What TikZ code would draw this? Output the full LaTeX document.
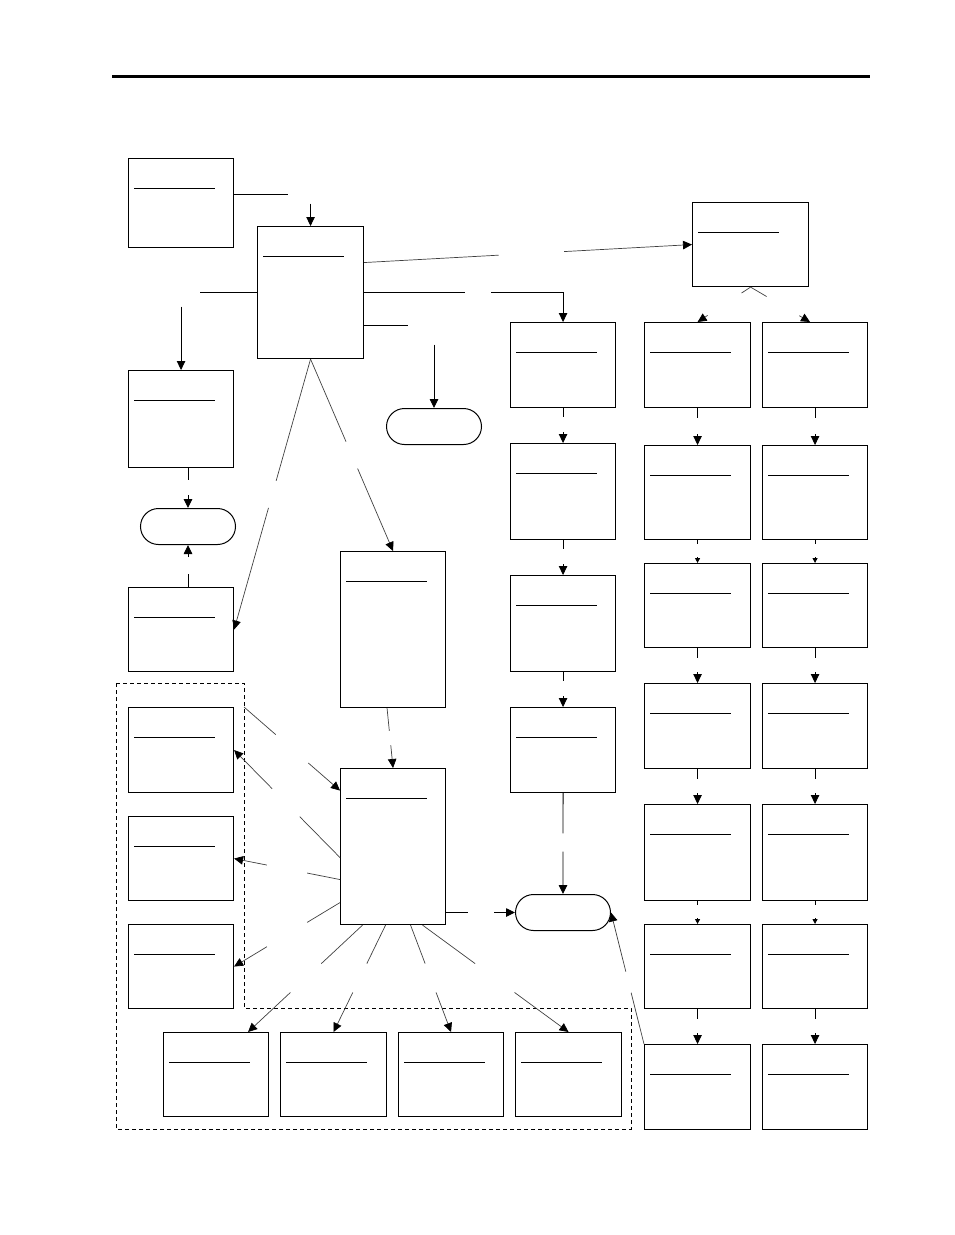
\documentclass[tikz,border=0pt]{standalone}
\usetikzlibrary{arrows.meta,calc}

\tikzset{
  box/.style={draw, line width=1.1pt, anchor=north west, inner sep=0pt, minimum width=105pt},
  term/.style={draw, line width=1pt, rounded corners=18pt, anchor=north west, inner sep=0pt,
    minimum width=95pt, minimum height=36pt},
  link/.style={line width=0.9pt},
  slant/.style={line width=0.7pt, draw=black!75},
  small/.style={-{Triangle[length=5pt,width=5pt,color=black]}}
}

% gebrochene Verbindung: Start, Ziel, Ende erstes Stück, Anfang Pfeilstück
\newcommand{\gapline}[4]{%
  \draw[slant] (#1) -- ($(#1)!#3!(#2)$);
  \draw[slant,->] ($(#1)!#4!(#2)$) -- (#2);}

\begin{document}
\begin{tikzpicture}[x=1pt, y=-1pt, >={Triangle[length=9pt,width=8.5pt,color=black]}]
\useasboundingbox (0,0) rectangle (954,1235);

% Kopflinie
\draw[line width=3pt] (112,76) -- (870,76);

% obere Blöcke
\node[box, minimum height=89pt] (src) at (128,158) {};
\node[box, minimum width=106pt, minimum height=132pt] (hub) at (257,226) {};
\node[box, minimum width=116pt, minimum height=84pt] (side) at (692,202) {};
\node[box, minimum height=97pt] (up) at (128,370) {};
\node[box, minimum height=84pt] (low) at (128,587) {};
\node[box, minimum height=156pt] (mid) at (340,551) {};
\node[box, minimum height=156pt] (core) at (340,768) {};

% Endstellen
\node[term] (endL) at (140,508) {};
\node[term] (endM) at (386,408) {};
\node[term] (endR) at (515,894) {};

% Spalte links der Mitte
\node[box, minimum height=85pt] (p1) at (510,322) {};
\node[box, minimum height=96pt] (p2) at (510,443) {};
\node[box, minimum height=96pt] (p3) at (510,575) {};
\node[box, minimum height=85pt] (p4) at (510,707) {};

% zwei rechte Spalten
\foreach \y/\h [count=\i] in {322/85,445/94,563/84,683/85,804/96,924/84,1044/85} {
  \node[box, minimum width=106pt, minimum height={\h pt}] (q\i) at (644,\y) {};
  \node[box, minimum height={\h pt}] (r\i) at (762,\y) {};
}

% Gruppe unten links
\node[box, minimum height=85pt] (l1) at (128,707) {};
\node[box, minimum height=84pt] (l2) at (128,816) {};
\node[box, minimum height=84pt] (l3) at (128,924) {};
\node[box, minimum height=84pt] (d1) at (163,1032) {};
\node[box, minimum width=106pt, minimum height=84pt] (d2) at (280,1032) {};
\node[box, minimum height=84pt] (d3) at (398,1032) {};
\node[box, minimum width=106pt, minimum height=84pt] (d4) at (515,1032) {};
\draw[line width=0.8pt, dash pattern=on 4pt off 3pt]
  (116,683) -- (244,683) -- (244,1008) -- (631,1008) -- (631,1129) -- (116,1129) -- cycle;
\coordinate (grp) at (244,707);

% Titelstriche
\foreach \n in {src,hub,side,up,low,mid,core,p1,p2,p3,p4,q1,q2,q3,q4,q5,q6,q7,
                r1,r2,r3,r4,r5,r6,r7,l1,l2,l3,d1,d2,d3,d4}
  \draw[link] ($(\n.north west)+(6,30)$) -- ++(81,0);

% Zulauf oben
\coordinate (srcout) at ($(src.east)+(0,-8.5)$);
\draw[link] (srcout) -- +(54,0);
\draw[link,->] (srcout -| hub.north) ++(0,9) -- (hub.north);

% Ausgänge des oberen Blocks
\draw[link] (hub.west) -- +(-57,0);
\draw[link,->] (hub.west -| up.north) ++(0,14) -- (up.north);
\draw[link] (hub.east) -- +(101,0);
\draw[link,->] (hub.east) ++(127,0) -| (p1.north);
\coordinate (hubout) at ($(hub.east)+(0,33)$);
\draw[link] (hubout) -- +(44,0);
\draw[link,->] (hubout -| endM.north) ++(0,19) -- (endM.north);
\coordinate (hubtop) at ($(hub.east)+(0,-30)$);
\gapline{hubtop}{side.west}{0.41}{0.61}
\gapline{hub.south}{low.east}{0.45}{0.55}
\gapline{hub.south}{mid.north}{0.43}{0.57}

% linke Endstelle
\draw[link] (endL.north |- up.south) -- ++(0,12);
\draw[link,->] (endL.north) ++(0,-13) -- (endL.north);
\draw[link] (endL.south |- low.north) -- ++(0,-13);
\draw[link,->] (endL.south) ++(0,12) -- (endL.south);

% Verzweigung rechts oben
\coordinate (r1in) at ($(r1.north)+(-5,0)$);
\gapline{side.south}{q1.north}{0.17}{0.81}
\gapline{side.south}{r1in}{0.27}{0.82}

% Ketten
\foreach \i/\j in {1/2,2/3,3/4} {
  \draw[link] (p\i.south) -- ++(0,9);
  \draw[link,->] ($(p\j.north)+(0,-11)$) -- (p\j.north);
}
\foreach \c in {q,r} {
  \foreach \i/\j in {1/2,3/4,4/5,6/7} {
    \draw[link] (\c\i.south) -- ++(0,10);
    \draw[link,->] ($(\c\j.north)+(0,-11)$) -- (\c\j.north);
  }
  \foreach \i/\j in {2/3,5/6} {
    \draw[link] (\c\i.south) -- ++(0,4);
    \draw[link,small] ($(\c\j.north)+(0,-6)$) -- (\c\j.north);
  }
}
\draw[link] (p4.south) -- ($(p4.south)!0.4!(endR.north)$);
\draw[link,->] ($(p4.south)!0.58!(endR.north)$) -- (endR.north);
\gapline{q7.north west}{endR.east}{0.39}{0.55}

% mittlerer Block
\coordinate (midout) at ($(mid.south)+(-6,0)$);
\gapline{midout}{core.north}{0.38}{0.62}
\coordinate (coreA) at ($(core.west)+(0,-56)$);
\coordinate (coreB) at ($(core.west)+(0,11)$);
\coordinate (coreC) at ($(core.west)+(0,33)$);
\coordinate (coreD) at ($(core.west)+(0,56)$);
\gapline{grp}{coreA}{0.33}{0.67}
\gapline{coreB}{l1.east}{0.38}{0.64}
\gapline{coreC}{l2.east}{0.31}{0.69}
\gapline{coreD}{l3.east}{0.31}{0.69}
\draw[link] (core.east |- endR.west) -- +(22,0);
\draw[link,->] (endR.west) ++(-21,0) -- (endR.west);

% nach unten
\coordinate (coreS1) at ($(core.south)+(-30.5,0)$);
\coordinate (coreS2) at ($(core.south)+(-7.5,0)$);
\coordinate (coreS3) at ($(core.south)+(17.5,0)$);
\coordinate (coreS4) at ($(core.south)+(29.5,0)$);
\coordinate (d1in) at ($(d1.north)+(32,0)$);
\gapline{coreS1}{d1in}{0.36}{0.63}
\gapline{coreS2}{d2.north}{0.36}{0.63}
\gapline{coreS3}{d3.north}{0.36}{0.63}
\gapline{coreS4}{d4.north}{0.36}{0.63}

\end{tikzpicture}
\end{document}
